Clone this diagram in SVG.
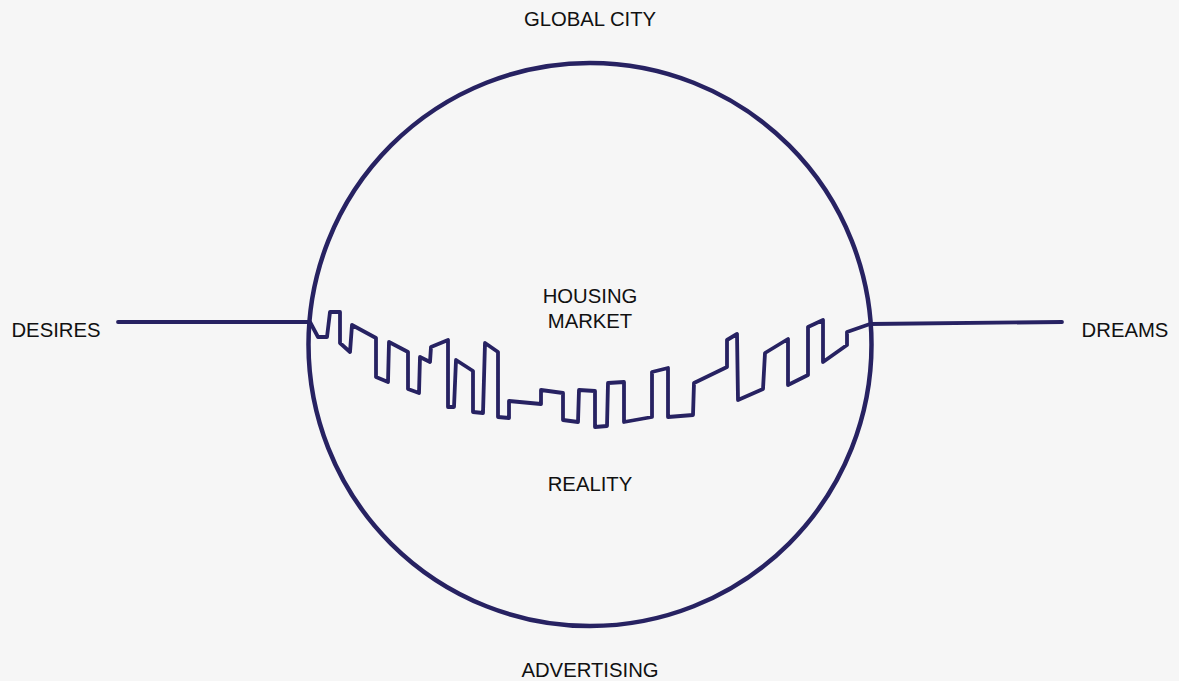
<svg xmlns="http://www.w3.org/2000/svg" width="1179" height="681" viewBox="0 0 1179 681">
<style>
.t{font-family:"Liberation Sans",Arial,sans-serif;font-size:20.3px;fill:#111;text-anchor:middle}
.s{fill:none;stroke:#272262;stroke-width:3.8;stroke-linejoin:round;stroke-linecap:round}
</style>
<rect width="1179" height="681" fill="#f6f6f6"/>
<g id="connectors">
<path class="s" d="M118,322 L310,322 L318,337 L327,337 L330,312 L340,312 L340,343 L350,352 L352,325 L376,338 L376,377 L388,382 L389,342 L408,352 L408,389 L419,393 L420,357 L430,362 L431,347 L448,340 L448,407 L454,407 L456,360 L473,371 L473,412 L483,413 L485,343 L498,352 L498,417 L509,418 L509,401 L541,404 L541,390 L563,393 L563,420 L578,422 L579,390 L595,391 L595,427 L607,426 L608,383 L624,382 L624,422 L652,417 L652,372 L668,368 L668,417 L693,415 L694,383 L727,367 L727,340 L737,334 L738,400 L763,389 L765,353 L788,339 L788,385 L808,375 L808,327 L823,320 L823,362 L847,345 L847,332 L870,324 L1062,322"/>
</g>
<g id="globe"><circle cx="590" cy="344.5" r="281.5" fill="none" stroke="#272262" stroke-width="4.5"/></g>
<g id="global-city"><text class="t" x="590" y="26">GLOBAL CITY</text></g>
<g id="desires"><text class="t" x="56" y="337">DESIRES</text></g>
<g id="dreams"><text class="t" x="1125" y="337">DREAMS</text></g>
<g id="housing-market"><text class="t" x="590" y="303">HOUSING</text><text class="t" x="590" y="328">MARKET</text></g>
<g id="reality"><text class="t" x="590" y="491">REALITY</text></g>
<g id="advertising"><text class="t" x="590" y="677">ADVERTISING</text></g>
</svg>
